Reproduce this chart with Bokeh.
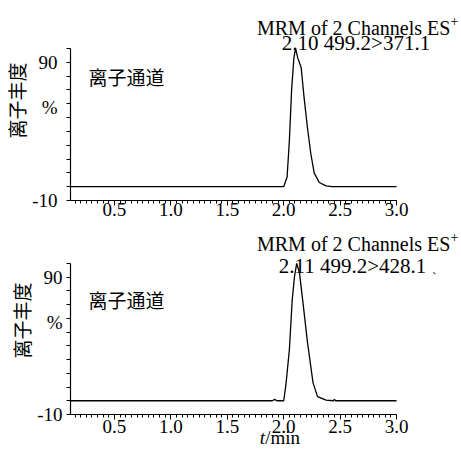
from bokeh.plotting import figure
from bokeh.layouts import column
from bokeh.models import Range1d, FixedTicker, PrintfTickFormatter, Label
from bokeh.embed import file_html
from bokeh.resources import INLINE

# ---- data ----
t_top = [0.11, 2.00, 2.03, 2.05, 2.07, 2.09, 2.105, 2.125, 2.155, 2.18, 2.21, 2.24, 2.27, 2.315, 2.375, 2.43, 3.0]
i_top = [0, 0, 7, 33, 70, 93, 100, 93, 86, 65, 43, 24, 10, 3, 0.6, 0, 0]

t_bot = [0.11, 1.90, 1.92, 1.94, 2.00, 2.02, 2.05, 2.075, 2.095, 2.115, 2.14, 2.17, 2.21, 2.26, 2.30, 2.375, 2.44, 2.45, 2.46, 3.0]
i_bot = [0, 0, 1, 0, 0, 12, 37, 73, 90, 100, 93, 72, 43, 13, 3, 0.5, 0, 1, 0, 0]

x_major = [0.5, 1.0, 1.5, 2.0, 2.5, 3.0]
x_minor = [round(0.15 + 0.05 * k, 2) for k in range(58)]
y_major = [-10, 57, 90]
y_minor = [-10, 0, 10, 20, 30, 40, 50, 60, 70, 80, 90, 100]
y_label_overrides = {57: "%"}

title_top = "MRM of 2 Channels ES"
sub_top = "2.10 499.2>371.1"
title_bot = "MRM of 2 Channels ES"
sub_bot = "2.11 499.2>428.1"
inner_label = "离子通道"
y_label = "离子丰度"

SERIF = "Liberation Serif"
CJK = "Noto Sans CJK SC"

X0, X1 = 0.11, 3.576


def make_fig(t, inten, height, y_top, border_bottom, ytick_standoff, xtick_standoff,
             ylabel_standoff):
    p = figure(width=461, height=height,
               x_range=Range1d(X0, X1), y_range=Range1d(-10, y_top),
               output_backend="svg", toolbar_location=None,
               min_border_left=69, min_border_right=0,
               min_border_top=0, min_border_bottom=border_bottom)
    p.outline_line_color = None
    p.xgrid.visible = False
    p.ygrid.visible = False
    p.line(t, inten, line_color="black", line_width=1.3)

    xa = p.xaxis[0]
    xa.bounds = (0.11, 3.0)
    xa.ticker = FixedTicker(ticks=x_major, minor_ticks=x_minor)
    xa.formatter = PrintfTickFormatter(format="%.1f")
    xa.axis_line_color = "black"
    xa.axis_line_width = 1.2
    xa.major_tick_line_color = "black"
    xa.minor_tick_line_color = "black"
    xa.major_tick_in = 0
    xa.major_tick_out = 5
    xa.minor_tick_in = 0
    xa.minor_tick_out = 3
    xa.major_label_standoff = xtick_standoff
    xa.major_label_text_font = SERIF
    xa.major_label_text_font_size = "19px"
    xa.major_label_text_color = "black"

    ya = p.yaxis[0]
    ya.bounds = (-10, 100)
    ya.ticker = FixedTicker(ticks=y_major, minor_ticks=y_minor)
    ya.formatter = PrintfTickFormatter(format="%d")
    ya.major_label_overrides = y_label_overrides
    ya.axis_line_color = "black"
    ya.axis_line_width = 1.2
    ya.major_tick_line_color = "black"
    ya.minor_tick_line_color = "black"
    ya.major_tick_in = 0
    ya.major_tick_out = 0
    ya.minor_tick_in = 0
    ya.minor_tick_out = 4
    ya.major_label_standoff = ytick_standoff
    ya.major_label_text_font = SERIF
    ya.major_label_text_font_size = "19px"
    ya.major_label_text_color = "black"
    ya.axis_label = y_label
    ya.axis_label_text_font = CJK
    ya.axis_label_text_font_size = "19px"
    ya.axis_label_text_font_style = "normal"
    ya.axis_label_text_color = "black"
    ya.axis_label_standoff = ylabel_standoff
    return p


def lbl(p, x, y, text, font=SERIF, size="20px", align="left", baseline="alphabetic",
        style="normal"):
    p.add_layout(Label(x=x, y=y, text=text, text_font=font, text_font_size=size,
                       text_align=align, text_baseline=baseline,
                       text_color="black", text_font_style=style))


# ---- top panel ----
p1 = make_fig(t_top, i_top, 226, 134.7, 26, 9, -3, -1)
lbl(p1, 1.763, 115.0, title_top)
lbl(p1, 3.478, 119.8, "+", size="14px")
lbl(p1, 2.641, 104.1, sub_top, size="21px", align="center")
lbl(p1, 0.269, 79.9, inner_label, font=CJK, size="19px", baseline="middle")

# ---- bottom panel ----
p2 = make_fig(t_bot, i_bot, 226, 126.9, 38, 4, 0, -1)
lbl(p2, 1.763, 113.8, title_bot)
lbl(p2, 3.478, 118.9, "+", size="14px")
lbl(p2, 2.610, 97.8, sub_bot, size="21px", align="center")
lbl(p2, 0.269, 73.4, inner_label, font=CJK, size="19px", baseline="middle")
lbl(p2, 3.359, 95.2, "、", font=CJK, size="9px", align="center", baseline="middle")

# ---- transparent strip (overlapping the bottom panel's lower border) for the x title ----
p3 = figure(width=461, height=30, x_range=Range1d(X0 - 69 / 113.1, X1),
            y_range=Range1d(0, 30), output_backend="svg", toolbar_location=None,
            x_axis_location=None, y_axis_location=None,
            min_border_left=0, min_border_right=0, min_border_top=0, min_border_bottom=0,
            margin=(-30, 0, 0, 0))
p3.outline_line_color = None
p3.background_fill_alpha = 0
p3.border_fill_alpha = 0
p3.xgrid.visible = False
p3.ygrid.visible = False
lbl(p3, 1.529, 15, "t", size="19px", align="right", style="italic", baseline="middle")
lbl(p3, 1.529, 15, "/min", size="19px", align="left", baseline="middle")

layout = column(p1, p2, p3, spacing=0)
open("out.html", "w").write(file_html(layout, INLINE))
